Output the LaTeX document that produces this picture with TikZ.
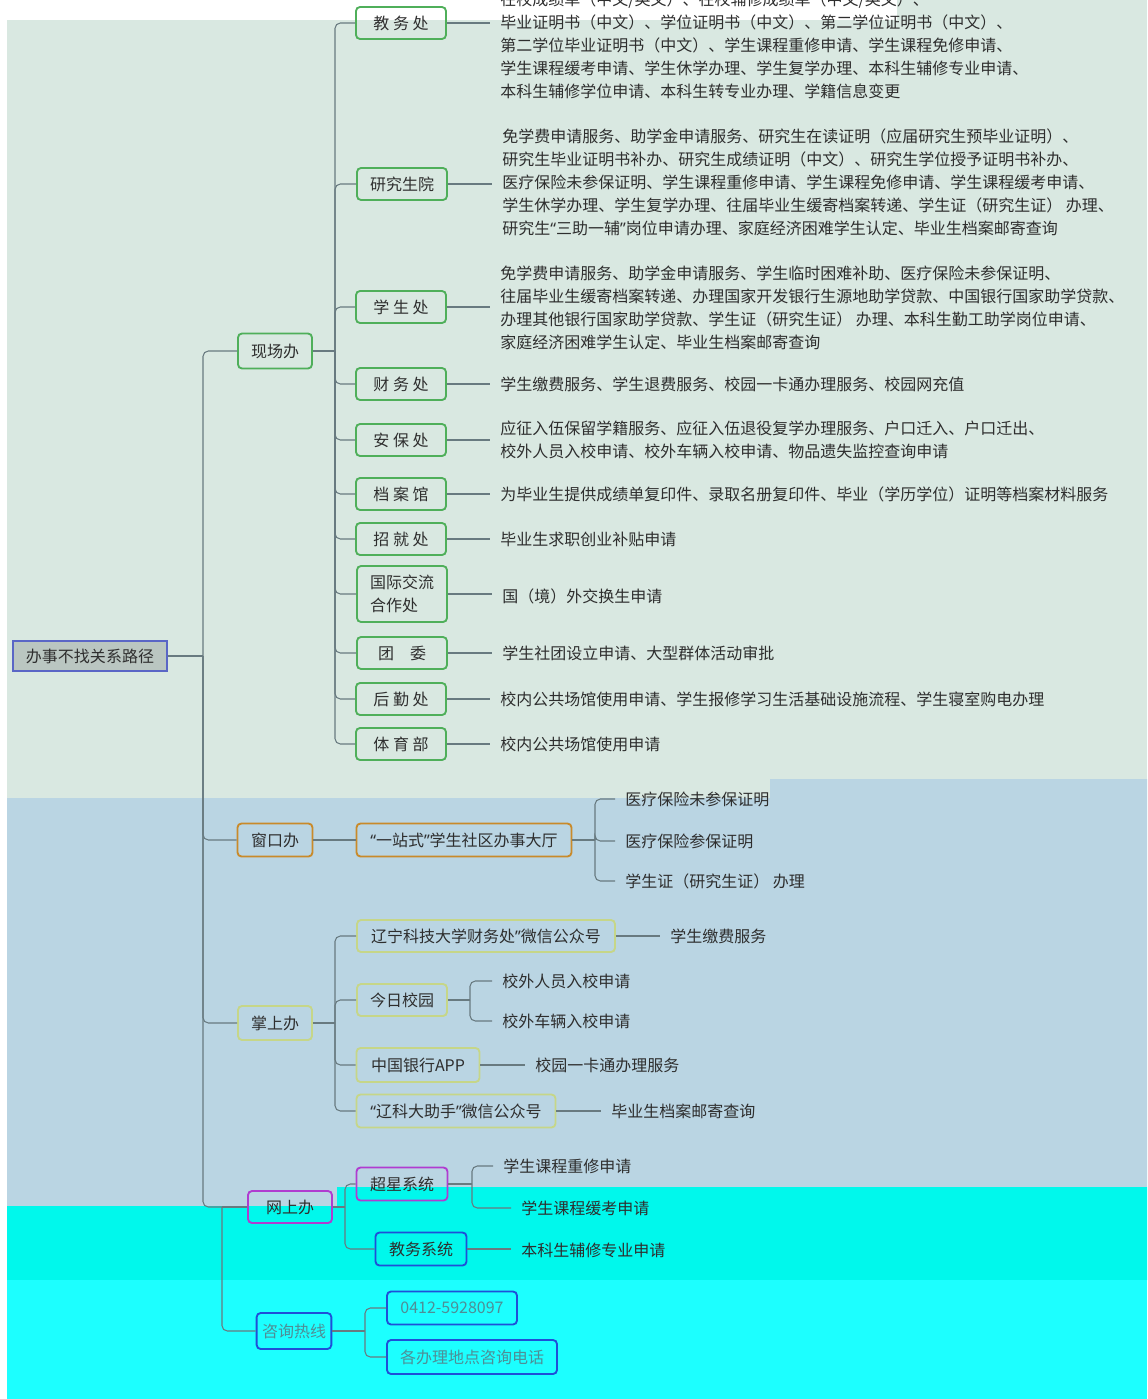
\documentclass[tikz,border=0pt]{standalone}
\usepackage{fontspec}
\usetikzlibrary{calc}
\newfontfamily\cjk{Noto Sans CJK SC}
\newfontfamily\latq{Noto Sans}
\newcommand*{\pxu}{0.75pt}
\newcommand*{\qo}{{\latq “}}
\newcommand*{\qc}{{\latq ”}}
\definecolor{mint}{HTML}{D9E8E1}
\definecolor{sky}{HTML}{BAD5E3}
\definecolor{cyanA}{HTML}{00F8EC}
\definecolor{cyanB}{HTML}{1CFFFF}
\definecolor{linegray}{HTML}{687A80}
\definecolor{boxgreen}{HTML}{4FAF5A}
\definecolor{boxorange}{HTML}{C98A2A}
\definecolor{boxolive}{HTML}{C6D688}
\definecolor{boxpurple}{HTML}{B03CD0}
\definecolor{boxblue}{HTML}{1F4FD8}
\definecolor{rootfill}{HTML}{BAC6C1}
\definecolor{rootline}{HTML}{5A66C6}
\definecolor{ink}{HTML}{2E2E2E}
\definecolor{tealink}{HTML}{4E8E96}
\tikzset{
  unitbox/.style={draw, rounded corners=3pt, line width=1.4pt, minimum height=32*\pxu, inner xsep=4pt, text=ink},
  dept/.style={unitbox, draw=boxgreen, minimum width=90*\pxu},
  leaf/.style={anchor=west, align=left, inner xsep=10*\pxu, inner ysep=0pt, text=ink},
  link/.style={draw=linegray, line width=0.8pt, rounded corners=4pt},
}

\begin{document}
\begin{tikzpicture}[x=\pxu, y=-\pxu, font=\cjk\fontsize{12}{17.25}\selectfont]
    \useasboundingbox (0,0) rectangle (1147,1399);
    % background panels
    \fill [white] (0,0) rectangle (1147,1399);
    \fill [mint] (7,20) rectangle (1147,798);
    \fill [mint] (897,0) rectangle (1147,20);
    \fill [sky] (7,798) -- (770,798) -- (770,779) -- (1147,779) -- (1147,1187) -- (337,1187) -- (337,1206) -- (7,1206) -- cycle;
    \fill [cyanA] (7,1206) -- (337,1206) -- (337,1187) -- (1147,1187) -- (1147,1280) -- (7,1280) -- cycle;
    \fill [cyanB] (7,1280) rectangle (1147,1399);

    \node [draw=rootline, fill=rootfill, line width=1.1pt, minimum width=154*\pxu, minimum height=30*\pxu, text=ink] (root) at (90,656) {办事不找关系路径};
    \coordinate (rootJ) at (203,656);

    \node [unitbox, draw=boxgreen, minimum width=74*\pxu, minimum height=35*\pxu] (xcb) at (275,351) {现场办};
    \node [unitbox, draw=boxorange, minimum width=75*\pxu, minimum height=33*\pxu] (ckb) at (275,840) {窗口办};
    \node [unitbox, draw=boxolive, minimum width=74*\pxu, minimum height=34*\pxu] (zsb) at (275,1023) {掌上办};
    \node [unitbox, draw=boxpurple, minimum width=84*\pxu] (wsb) at (290,1207) {网上办};
    \node [unitbox, draw=boxblue, minimum width=74*\pxu, minimum height=36*\pxu, text=tealink] (zxrx) at (294,1331) {咨询热线};
    \coordinate (zxrxT) at (222,1207);

    \draw [link] (root.east) -- (rootJ);
    \foreach \c in {xcb,ckb,zsb,wsb}
        \draw [link] (\c.west) -| (rootJ);
    \draw [link] (wsb.west) -- (zxrxT);
    \draw [link] (zxrx.west) -| (zxrxT);

    % 现场办
    \coordinate (xcbJ) at (335,351);
    \node [dept] (jwc)  at (401,23)  {教 务 处};
    \node [dept] (yjsy) at (402,184) {研究生院};
    \node [dept] (xsc)  at (401,307) {学 生 处};
    \node [dept] (cwc)  at (401,384) {财 务 处};
    \node [dept] (abc)  at (401,440) {安 保 处};
    \node [dept] (dag)  at (401,494) {档 案 馆};
    \node [dept] (zjc)  at (401,539) {招 就 处};
    \node [dept, minimum height=56*\pxu, align=left] (gjjl) at (402,594) {国际交流\\合作处};
    \node [dept] (tw)   at (402,653) {团\quad 委};
    \node [dept] (hqc)  at (401,699) {后 勤 处};
    \node [dept] (tyb)  at (401,744) {体 育 部};
    \draw [link] (xcb.east) -- (xcbJ);
    \foreach \c in {jwc,yjsy,xsc,cwc,abc,dag,zjc,gjjl,tw,hqc,tyb}
        \draw [link] (\c.west) -| (xcbJ);

    \node [leaf] (jwcL) at (490,45.5) {在校成绩单（中文/英文）、在校辅修成绩单（中文/英文）、\\毕业证明书（中文）、学位证明书（中文）、第二学位证明书（中文）、\\第二学位毕业证明书（中文）、学生课程重修申请、学生课程免修申请、\\学生课程缓考申请、学生休学办理、学生复学办理、本科生辅修专业申请、\\本科生辅修学位申请、本科生转专业办理、学籍信息变更};
    \node [leaf] (yjsyL) at (492,182) {免学费申请服务、助学金申请服务、研究生在读证明（应届研究生预毕业证明）、\\研究生毕业证明书补办、研究生成绩证明（中文）、研究生学位授予证明书补办、\\医疗保险未参保证明、学生课程重修申请、学生课程免修申请、学生课程缓考申请、\\学生休学办理、学生复学办理、往届毕业生缓寄档案转递、学生证（研究生证） 办理、\\研究生\qo 三助一辅\qc 岗位申请办理、家庭经济困难学生认定、毕业生档案邮寄查询};
    \node [leaf] (xscL) at (490,307.5) {免学费申请服务、助学金申请服务、学生临时困难补助、医疗保险未参保证明、\\往届毕业生缓寄档案转递、办理国家开发银行生源地助学贷款、中国银行国家助学贷款、\\办理其他银行国家助学贷款、学生证（研究生证） 办理、本科生勤工助学岗位申请、\\家庭经济困难学生认定、毕业生档案邮寄查询};
    \node [leaf] (cwcL) at (490,384) {学生缴费服务、学生退费服务、校园一卡通办理服务、校园网充值};
    \node [leaf] (abcL) at (490,439.5) {应征入伍保留学籍服务、应征入伍退役复学办理服务、户口迁入、户口迁出、\\校外人员入校申请、校外车辆入校申请、物品遗失监控查询申请};
    \node [leaf] (dagL) at (490,494) {为毕业生提供成绩单复印件、录取名册复印件、毕业（学历学位）证明等档案材料服务};
    \node [leaf] (zjcL) at (490,539) {毕业生求职创业补贴申请};
    \node [leaf] (gjjlL) at (492,596) {国（境）外交换生申请};
    \node [leaf] (twL) at (492,653) {学生社团设立申请、大型群体活动审批};
    \node [leaf] (hqcL) at (490,699) {校内公共场馆使用申请、学生报修学习生活基础设施流程、学生寝室购电办理};
    \node [leaf] (tybL) at (490,744) {校内公共场馆使用申请};
    \foreach \c in {jwc,yjsy,xsc,cwc,abc,dag,zjc,gjjl,tw,hqc,tyb}
        \draw [link] (\c.east) -- (\c.east -| \c L.west);

    % 窗口办
    \node [unitbox, draw=boxorange, minimum width=215*\pxu, minimum height=33*\pxu] (yzs) at (464,840) {\qo 一站式\qc 学生社区办事大厅};
    \coordinate (yzsJ) at (595,840);
    \node [leaf] (ylw) at (615,799) {医疗保险未参保证明};
    \node [leaf] (yl)  at (615,841) {医疗保险参保证明};
    \node [leaf] (xsz) at (615,881) {学生证（研究生证） 办理};
    \draw [link] (ckb) -- (yzs);
    \draw [link] (yzs.east) -- (yzsJ);
    \foreach \c in {ylw,yl,xsz}
        \draw [link] (\c.west) -| (yzsJ);

    % 掌上办
    \coordinate (zsbJ) at (335,1023);
    \node [unitbox, draw=boxolive, minimum width=258*\pxu] (cwgzh) at (486,936) {辽宁科技大学财务处\qc 微信公众号};
    \node [unitbox, draw=boxolive, minimum width=90*\pxu] (jrxy) at (402,1000) {今日校园};
    \node [unitbox, draw=boxolive, minimum width=123*\pxu, minimum height=34*\pxu] (zgyh) at (418,1065) {中国银行APP};
    \node [unitbox, draw=boxolive, minimum width=199*\pxu, minimum height=33*\pxu] (lkdzs) at (456,1111) {\qo 辽科大助手\qc 微信公众号};
    \draw [link] (zsb.east) -- (zsbJ);
    \foreach \c in {cwgzh,jrxy,zgyh,lkdzs}
        \draw [link] (\c.west) -| (zsbJ);
    \node [leaf] (cwgzhL) at (660,936) {学生缴费服务};
    \node [leaf] (zgyhL) at (525,1065) {校园一卡通办理服务};
    \node [leaf] (lkdzsL) at (601,1111) {毕业生档案邮寄查询};
    \foreach \c in {cwgzh,zgyh,lkdzs}
        \draw [link] (\c.east) -- (\c.east -| \c L.west);
    \coordinate (jrxyJ) at (470,1000);
    \node [leaf] (xwry) at (492,981) {校外人员入校申请};
    \node [leaf] (xwcl) at (492,1021) {校外车辆入校申请};
    \draw [link] (jrxy.east) -- (jrxyJ);
    \foreach \c in {xwry,xwcl}
        \draw [link] (\c.west) -| (jrxyJ);

    % 网上办
    \coordinate (wsbJ) at (345,1207);
    \node [unitbox, draw=boxpurple, minimum width=91*\pxu, minimum height=33*\pxu] (cxxt) at (402,1184) {超星系统};
    \node [unitbox, draw=boxblue, minimum width=91*\pxu, minimum height=33*\pxu] (jwxt) at (421,1249) {教务系统};
    \draw [link] (wsb.east) -- (wsbJ);
    \foreach \c in {cxxt,jwxt}
        \draw [link] (\c.west) -| (wsbJ);
    \coordinate (cxxtJ) at (472,1184);
    \node [leaf] (cq) at (493,1166) {学生课程重修申请};
    \node [leaf] (hk) at (511,1208) {学生课程缓考申请};
    \draw [link] (cxxt.east) -- (cxxtJ);
    \foreach \c in {cq,hk}
        \draw [link] (\c.west) -| (cxxtJ);
    \node [leaf] (jwxtL) at (511,1250) {本科生辅修专业申请};
    \draw [link] (jwxt.east) -- (jwxt.east -| jwxtL.west);

    % 咨询热线
    \coordinate (zxrxJ) at (365,1331);
    \node [unitbox, draw=boxblue, minimum width=130*\pxu, minimum height=33*\pxu, text=tealink] (tel) at (452,1308) {0412-5928097};
    \node [unitbox, draw=boxblue, minimum width=170*\pxu, minimum height=34*\pxu, text=tealink] (dd) at (472,1357) {各办理地点咨询电话};
    \draw [link] (zxrx.east) -- (zxrxJ);
    \foreach \c in {tel,dd}
        \draw [link] (\c.west) -| (zxrxJ);
\end{tikzpicture}
\end{document}
